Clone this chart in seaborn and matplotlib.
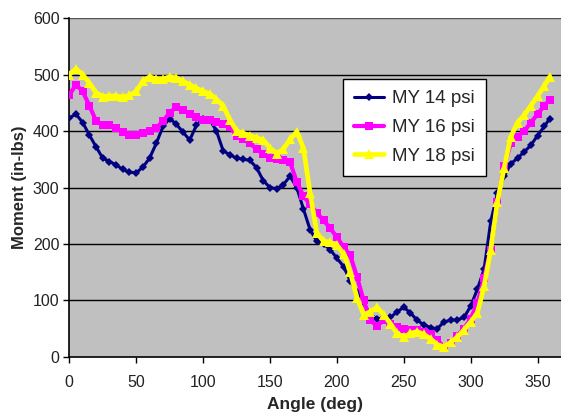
import numpy as np
import pandas as pd
import matplotlib
matplotlib.use("Agg")
import matplotlib.pyplot as plt
import seaborn as sns

angles = list(range(0, 360, 5)) + [359]

my14 = [423, 430, 415, 393, 372, 352, 346, 340, 332, 327, 326, 336, 352, 378, 408, 422,
        412, 398, 384, 410, 422, 420, 400, 365, 358, 352, 350, 348, 335, 312, 300, 298,
        305, 320, 300, 262, 225, 205, 200, 190, 175, 160, 135, 115, 95, 75, 68, 68,
        70, 80, 88, 78, 65, 57, 52, 50, 62, 65, 66, 70, 90, 120, 155, 240, 290, 320,
        342, 352, 363, 375, 392, 408, 422]

my16 = [464, 482, 470, 445, 418, 410, 411, 405, 398, 393, 393, 397, 400, 405, 418, 432,
        443, 438, 430, 424, 420, 420, 416, 412, 407, 392, 385, 378, 368, 360, 352, 350,
        349, 345, 310, 285, 270, 255, 242, 228, 212, 195, 180, 142, 100, 65, 55, 65,
        58, 53, 50, 48, 47, 45, 40, 30, 18, 25, 38, 50, 68, 95, 140, 190, 275, 338,
        378, 390, 400, 415, 430, 445, 455]

my18 = [500, 510, 500, 485, 468, 461, 462, 462, 460, 463, 470, 488, 496, 492, 492, 496,
        494, 488, 482, 476, 470, 466, 456, 445, 420, 400, 396, 392, 388, 384, 370, 360,
        368, 385, 399, 370, 290, 220, 205, 203, 198, 183, 150, 105, 75, 80, 88, 75,
        59, 42, 35, 42, 45, 40, 32, 22, 18, 26, 35, 48, 62, 78, 125, 190, 275, 335,
        390, 415, 428, 445, 462, 480, 496]

labels = ["MY 14 psi", "MY 16 psi", "MY 18 psi"]
colors = ["#000080", "#FF00FF", "#FFFF00"]
markers = ["D", "s", "^"]
msizes = [4, 6, 6.5]
lwidths = [2.2, 3.0, 3.4]
xticks = [0, 50, 100, 150, 200, 250, 300, 350]
yticks = [0, 100, 200, 300, 400, 500, 600]

df = pd.concat([
    pd.DataFrame({"Angle": angles, "Moment": vals, "Series": lab})
    for vals, lab in zip([my14, my16, my18], labels)
])

sns.set_theme(style="white")
plt.rcParams["font.family"] = ["Liberation Sans", "DejaVu Sans"]

fig = plt.figure(figsize=(5.61, 4.19), dpi=100)
ax = fig.add_axes([0.1235, 0.148, 0.8765, 0.809])
ax.set_facecolor("#C0C0C0")

for lab, c, m, ms, lw in zip(labels, colors, markers, msizes, lwidths):
    sub = df[df["Series"] == lab]
    sns.lineplot(data=sub, x="Angle", y="Moment", ax=ax, color=c, marker=m,
                 markersize=ms, markeredgewidth=0, linewidth=lw, label=lab,
                 zorder=3)

ax.set_xlim(0, 367.5)
ax.set_ylim(0, 600)
ax.set_xticks(xticks)
ax.set_yticks(yticks)
for y in yticks[1:]:
    ax.axhline(y, color="#555555" if y == 600 else "black", lw=1.0, zorder=1)

for s in ["top", "right"]:
    ax.spines[s].set_visible(False)
for s in ["left", "bottom"]:
    ax.spines[s].set_color("black")
    ax.spines[s].set_linewidth(1.2)

ax.tick_params(axis="both", which="both", direction="out", length=4, width=1,
               color="black", labelsize=11.5, labelcolor="#222222",
               left=True, bottom=True)
ax.tick_params(axis="x", pad=9)
ax.tick_params(axis="y", pad=3)

ax.set_xlabel("Angle (deg)", fontsize=12.5, fontweight="bold", labelpad=5)
ax.set_ylabel("Moment (in-lbs)", fontsize=12, fontweight="bold", labelpad=4)

leg = ax.legend(loc="upper left", bbox_to_anchor=(0.557, 0.82), frameon=True,
                fancybox=False, edgecolor="black", facecolor="white",
                framealpha=1, fontsize=13.5, handlelength=1.6, borderpad=0.6,
                labelspacing=0.62, handletextpad=0.4, borderaxespad=0)
leg.get_frame().set_linewidth(1.0)

fig.savefig("out.png", dpi=100)
